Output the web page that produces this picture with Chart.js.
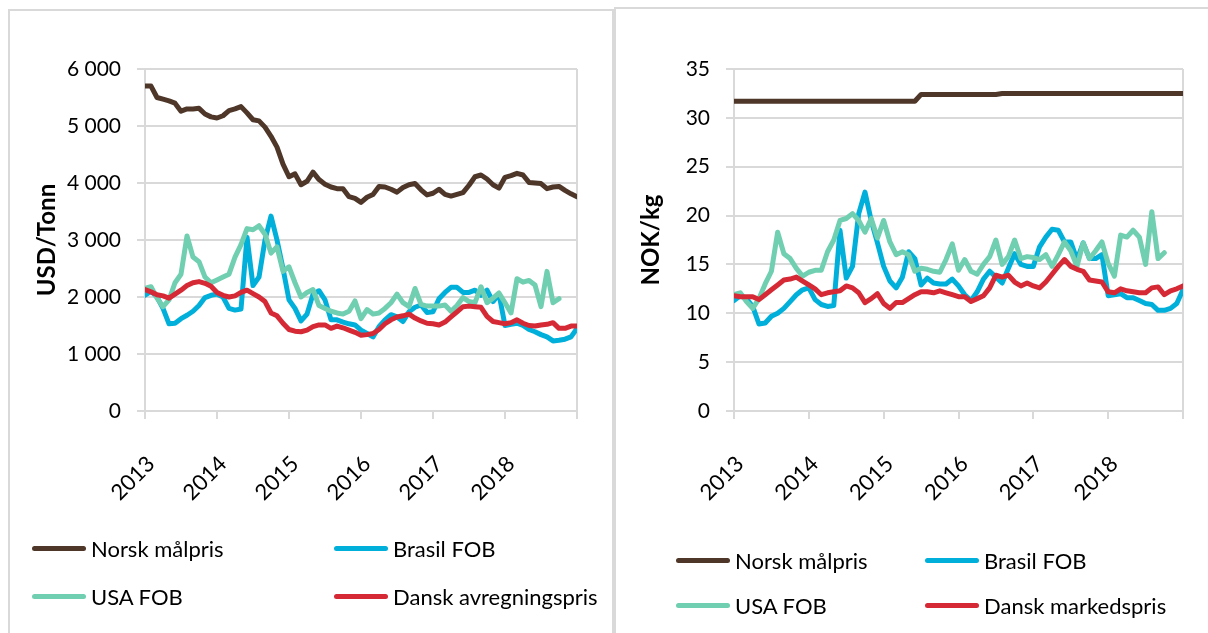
<!DOCTYPE html>
<html>
<head>
<meta charset="utf-8">
<script src="https://cdn.jsdelivr.net/npm/chart.js@4.4.1/dist/chart.umd.min.js"></script>
<style>
  html, body { margin:0; padding:0; background:#fff; }
  body { width:1208px; height:633px; position:relative; overflow:hidden; font-family:"Lato", sans-serif; }
  .panel { position:absolute; box-sizing:border-box; }
  #p1 { left:8px; top:9px; width:606px; height:700px; border-left:2px solid #d9d9d9; border-top:2px solid #d9d9d9; border-right:2px solid #d9d9d9; }
  #p2 { left:614px; top:7px; width:700px; height:700px; border-left:2px solid #d9d9d9; border-top:2px solid #d9d9d9; }
  .chartbox { position:absolute; top:0; }
  .lg { position:absolute; display:flex; align-items:center; height:30px; font-size:22px; color:#000; white-space:nowrap; }
  .lg .sw { width:54px; height:5px; border-radius:3px; margin-right:5px; }
</style>
</head>
<body>
<div class="panel" id="p1"></div>
<div class="panel" id="p2"></div>
<div class="chartbox" style="left:0;width:612px;height:633px;"><canvas id="c1" width="612" height="633"></canvas></div>
<div class="chartbox" style="left:612px;width:596px;height:633px;"><canvas id="c2" width="596" height="633"></canvas></div>
<div id="legends"></div>
<script>
// ---------- data ----------
const yearLabels = ['2013','2014','2015','2016','2017','2018'];   // x tick labels, one per 12 months (Jan 2013 .. Jan 2019)
const seriesNames = ['Norsk målpris','Brasil FOB','USA FOB'];
const danskNameLeft = 'Dansk avregningspris';
const danskNameRight = 'Dansk markedspris';
const yTicksLeft = ['0','1 000','2 000','3 000','4 000','5 000','6 000'];
const yTicksRight = ['0','5','10','15','20','25','30','35'];

// USD/Tonn, monthly
const norskUSD = [5700,5700,5500,5470,5440,5400,5260,5300,5300,5310,5210,5160,5140,5180,5270,5300,5340,5230,5110,5090,4980,4820,4630,4330,4110,4160,3970,4030,4190,4060,3980,3930,3900,3900,3760,3730,3660,3750,3800,3940,3930,3890,3840,3920,3970,3990,3880,3790,3820,3890,3800,3770,3800,3830,3960,4110,4140,4070,3970,3910,4100,4130,4170,4140,4010,4000,3990,3900,3930,3940,3870,3810,3760];
const brasilUSD = [2030,2100,2000,1800,1530,1540,1620,1680,1750,1850,1990,2030,2050,2000,1800,1770,1790,3050,2200,2350,3000,3420,3000,2500,1950,1800,1580,1700,2050,2110,1950,1600,1600,1560,1530,1510,1420,1360,1300,1480,1600,1690,1650,1570,1740,1820,1860,1730,1740,1970,2080,2170,2170,2080,2080,2120,2030,2120,1920,2050,1500,1520,1540,1500,1430,1390,1340,1300,1230,1240,1260,1300,1450];
const usaUSD = [2150,2180,1980,1830,1950,2250,2400,3070,2700,2620,2350,2250,2300,2350,2400,2700,2920,3200,3180,3250,3100,2770,2880,2450,2530,2250,2000,2080,2130,1850,1800,1750,1720,1700,1750,1930,1620,1780,1700,1720,1800,1900,2050,1900,1830,2150,1870,1840,1840,1840,1860,1750,1850,1990,1920,1900,2180,1900,1980,2070,1900,1720,2320,2260,2290,2210,1830,2450,1900,1970,null,null,null];
const danskUSD = [2130,2090,2040,2020,1980,2050,2120,2200,2250,2270,2240,2190,2080,2030,2000,2020,2080,2120,2060,2000,1920,1720,1670,1540,1430,1400,1390,1420,1480,1510,1510,1450,1490,1460,1420,1380,1330,1340,1360,1430,1530,1600,1650,1670,1700,1630,1580,1540,1530,1510,1560,1650,1740,1830,1840,1830,1820,1660,1570,1550,1530,1550,1600,1540,1500,1490,1510,1520,1550,1450,1450,1490,1490];

// NOK/kg, monthly
const norskNOK = [31.7,31.7,31.7,31.7,31.7,31.7,31.7,31.7,31.7,31.7,31.7,31.7,31.7,31.7,31.7,31.7,31.7,31.7,31.7,31.7,31.7,31.7,31.7,31.7,31.7,31.7,31.7,31.7,31.7,31.7,32.4,32.4,32.4,32.4,32.4,32.4,32.4,32.4,32.4,32.4,32.4,32.4,32.4,32.5,32.5,32.5,32.5,32.5,32.5,32.5,32.5,32.5,32.5,32.5,32.5,32.5,32.5,32.5,32.5,32.5,32.5,32.5,32.5,32.5,32.5,32.5,32.5,32.5,32.5,32.5,32.5,32.5,32.5];
const brasilNOK = [11.3,11.8,11.5,10.7,8.9,9.0,9.7,10.0,10.5,11.2,11.9,12.4,12.6,11.4,10.9,10.7,10.8,18.5,13.6,14.8,20.2,22.4,19.5,17.2,14.8,13.3,12.6,13.7,16.3,15.6,12.9,13.6,13.1,13.0,13.0,13.5,12.8,11.9,11.3,12.2,13.5,14.3,13.7,13.1,14.6,16.1,15.0,14.8,14.8,16.8,17.8,18.6,18.5,17.3,17.3,15.5,17.2,15.6,15.6,16.0,11.8,11.9,12.0,11.6,11.6,11.3,11.0,10.9,10.3,10.3,10.5,11.0,12.4];
const usaNOK = [11.9,12.1,11.2,10.5,11.5,13.0,14.3,18.3,16.1,15.6,14.6,13.8,14.2,14.4,14.4,16.3,17.5,19.5,19.7,20.2,19.5,18.3,19.7,17.7,19.5,17.3,16.0,16.3,16.0,14.3,14.6,14.5,14.3,14.2,15.5,17.1,14.4,15.5,14.3,14.0,15.0,15.8,17.5,15.0,15.8,17.5,15.6,15.8,15.7,15.5,16.0,14.8,16.0,17.3,16.4,14.8,17.2,15.6,16.4,17.3,15.1,13.8,18.0,17.8,18.5,17.8,15.0,20.4,15.6,16.2,null,null,null];
const danskNOK = [11.8,11.7,11.7,11.7,11.4,11.9,12.4,12.9,13.4,13.5,13.7,13.3,12.9,12.5,11.9,12.1,12.2,12.3,12.8,12.6,12.1,11.1,11.5,12.0,11.0,10.5,11.1,11.1,11.5,11.9,12.2,12.2,12.1,12.3,12.1,11.9,11.7,11.7,11.2,11.5,11.8,12.6,13.9,13.7,13.9,13.2,12.8,13.1,12.8,12.6,13.2,14.0,14.8,15.5,14.8,14.5,14.3,13.4,13.3,13.2,12.2,12.1,12.5,12.3,12.2,12.1,12.1,12.6,12.7,11.9,12.3,12.5,12.8];

// ---------- styles ----------
const colors = ['#4e3629','#00b0da','#70cfb0','#d52a36'];
const GRID = '#d9d9d9';
const FONT = 'Lato';

function pts(arr){ return arr.map((v,i)=>({x:i,y:v})); }

function makeChart(id, data, names, yMax, yStep, yTickLabels, yTitle, geo){
  const lastX = data[0].length - 1;
  const ds = data.map((arr,k)=>({
    label:names[k], data:pts(arr), borderColor:colors[k], backgroundColor:colors[k],
    borderWidth:5, pointRadius:0, tension:0, spanGaps:false,
    borderJoinStyle:'round', borderCapStyle:'round', order:3-k
  }));
  return new Chart(document.getElementById(id), {
    type:'line',
    data:{datasets:ds},
    options:{
      responsive:false, animation:false, devicePixelRatio:1,
      layout:{padding:{left:0, right:geo.padRight, top:geo.padTop, bottom:0}},
      plugins:{legend:{display:false}, tooltip:{enabled:false}},
      scales:{
        x:{
          type:'linear', min:0, max:lastX,
          afterFit:(s)=>{ s.height = geo.xHeight; s.paddingLeft = 0; s.paddingRight = 0; },
          ticks:{stepSize:12, autoSkip:false, maxRotation:45, minRotation:45, padding:geo.xPad, labelOffset:6,
                 color:'#000', font:{family:FONT, size:22},
                 callback:(v)=> (v%12===0 && v/12 < yearLabels.length) ? yearLabels[v/12] : ''},
          grid:{lineWidth:2, tickLength:8, tickColor:GRID, tickWidth:2,
                color:(c)=> (c.tick && (c.tick.value===0 || c.tick.value===lastX)) ? GRID : 'rgba(0,0,0,0)'},
          border:{display:true, color:GRID, width:2}
        },
        y:{
          min:0, max:yMax,
          afterFit:(s)=>{ s.width = geo.yWidth; },
          ticks:{stepSize:yStep, padding:geo.yPad, color:'#000', font:{family:FONT, size:21},
                 callback:(v)=> yTickLabels[Math.round(v/yStep)]},
          grid:{color:GRID, lineWidth:2, tickLength:8},
          border:{display:true, color:GRID, width:2},
          title:{display:true, text:yTitle, color:'#000', font:{family:FONT, size:24, weight:'bold'}, padding:{top:geo.titlePad, bottom:0}}
        }
      }
    }
  });
}

makeChart('c1', [norskUSD, brasilUSD, usaUSD, danskUSD], [seriesNames[0],seriesNames[1],seriesNames[2],danskNameLeft],
  6000, 1000, yTicksLeft, 'USD/Tonn', {padRight:35, padTop:69, xHeight:222, yWidth:145, yPad:16, xPad:32, titlePad:33});
makeChart('c2', [norskNOK, brasilNOK, usaNOK, danskNOK], [seriesNames[0],seriesNames[1],seriesNames[2],danskNameRight],
  35, 5, yTicksRight, 'NOK/kg', {padRight:25, padTop:69, xHeight:222, yWidth:122, yPad:16, xPad:32, titlePad:25});

// ---------- legends (HTML text) ----------
const legendItems = [
  {x:32, y:548, name:seriesNames[0], c:colors[0]},
  {x:334, y:548, name:seriesNames[1], c:colors[1]},
  {x:32, y:596, name:seriesNames[2], c:colors[2]},
  {x:334, y:596, name:danskNameLeft, c:colors[3]},
  {x:676, y:560, name:seriesNames[0], c:colors[0]},
  {x:925, y:560, name:seriesNames[1], c:colors[1]},
  {x:676, y:605, name:seriesNames[2], c:colors[2]},
  {x:925, y:605, name:danskNameRight, c:colors[3]}
];
const lg = document.getElementById('legends');
legendItems.forEach(it=>{
  const d = document.createElement('div');
  d.className = 'lg';
  d.style.left = it.x + 'px';
  d.style.top = (it.y - 15) + 'px';
  const sw = document.createElement('span'); sw.className='sw'; sw.style.background = it.c;
  const t = document.createElement('span'); t.textContent = it.name;
  d.appendChild(sw); d.appendChild(t);
  lg.appendChild(d);
});
</script>
</body>
</html>
